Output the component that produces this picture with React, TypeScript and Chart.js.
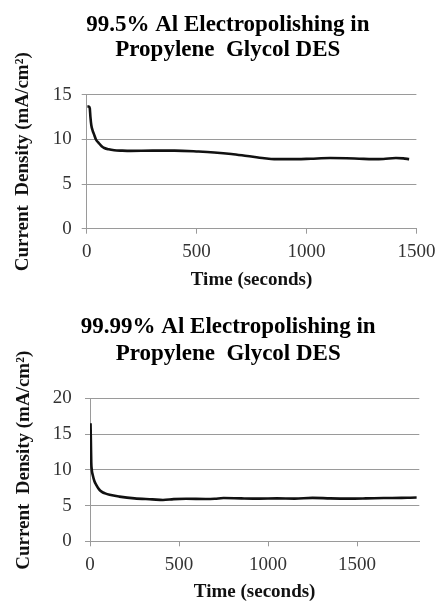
import React, { useEffect, useRef } from "react";
import { Chart, registerables } from "chart.js";

Chart.register(...registerables);

const title1 = ["99.5% Al Electropolishing in", "Propylene  Glycol DES"];
const title2 = ["99.99% Al Electropolishing in", "Propylene  Glycol DES"];
const xTitle = "Time (seconds)";
const yTitle1 = "Current  Density (mA/cm²)";
const yTitle2 = "    Current  Density (mA/cm²)";

const time1 = [3, 10, 14, 17, 21, 27, 33, 42, 55, 68, 80, 100, 125, 160, 200, 300, 400, 509, 580, 658, 730, 808, 853, 900, 958, 1020, 1107, 1182, 1240, 1302, 1350, 1407, 1440, 1467];
const density1 = [13.7, 13.7, 13.5, 12.5, 11.6, 11.0, 10.6, 10.0, 9.6, 9.25, 9.05, 8.9, 8.8, 8.75, 8.72, 8.75, 8.75, 8.65, 8.55, 8.38, 8.15, 7.9, 7.8, 7.8, 7.8, 7.85, 7.92, 7.9, 7.85, 7.8, 7.82, 7.92, 7.88, 7.8];
const xTicks1 = [0, 500, 1000, 1500];
const yTicks1 = [0, 5, 10, 15];

const time2 = [3, 5, 7, 10, 15, 25, 35, 50, 65, 85, 110, 165, 250, 350, 410, 470, 540, 650, 700, 750, 850, 950, 1050, 1150, 1250, 1350, 1450, 1550, 1650, 1750, 1800, 1835];
const density2 = [16.5, 14.0, 11.1, 10.0, 9.3, 8.4, 7.9, 7.3, 6.95, 6.7, 6.5, 6.25, 6.0, 5.87, 5.78, 5.9, 5.95, 5.92, 5.95, 6.05, 6.0, 5.97, 6.0, 5.97, 6.07, 6.0, 5.97, 6.0, 6.05, 6.07, 6.1, 6.12];
const xTicks2 = [0, 500, 1000, 1500];
const yTicks2 = [0, 5, 10, 15, 20];

const FONT = "'Liberation Serif', 'Times New Roman', serif";
const GRID = "#9a9a9a";

type Params = {
  title: string[];
  yTitle: string;
  time: number[];
  density: number[];
  xTicks: number[];
  yTicks: number[];
  xMax: number;
  yMax: number;
  titleLH: number;
  titlePadTop: number;
  titlePadBottom: number;
  padLeft: number;
  padRight: number;
  yWidth: number;
  yTitlePad: number;
  yTickPad: number;
  xHeight: number;
  xTickPad: number;
  xTitlePad: number;
};

function makeConfig(p: Params): any {
  return {
    type: "line",
    data: {
      datasets: [
        {
          data: p.time.map((t, i) => ({ x: t, y: p.density[i] })),
          borderColor: "#111111",
          borderWidth: 2.6,
          pointRadius: 0,
          tension: 0.4,
          cubicInterpolationMode: "monotone",
          fill: false,
        },
      ],
    },
    options: {
      animation: false,
      responsive: false,
      devicePixelRatio: 1,
      layout: { padding: { left: p.padLeft, right: p.padRight, top: 0, bottom: 0 } },
      plugins: {
        legend: { display: false },
        tooltip: { enabled: false },
        title: {
          display: true,
          text: p.title,
          color: "#000000",
          font: { family: FONT, size: 23, weight: "bold", lineHeight: p.titleLH },
          padding: { top: p.titlePadTop, bottom: p.titlePadBottom },
        },
      },
      scales: {
        x: {
          type: "linear",
          min: 0,
          max: p.xMax,
          afterBuildTicks: (scale: any) => {
            scale.ticks = p.xTicks.map((v) => ({ value: v }));
          },
          afterFit: (scale: any) => {
            scale.height = p.xHeight;
          },
          grid: { display: true, drawOnChartArea: false, drawTicks: true, tickLength: 5, color: GRID },
          border: { display: true, color: GRID, width: 1 },
          ticks: {
            color: "#333333",
            padding: p.xTickPad,
            font: { family: FONT, size: 19 },
            maxRotation: 0,
            autoSkip: false,
            callback: (v: any) => String(v),
          },
          title: {
            display: true,
            text: xTitle,
            color: "#111111",
            font: { family: FONT, size: 19, weight: "bold", lineHeight: 1.2 },
            padding: { top: 0, bottom: p.xTitlePad },
          },
        },
        y: {
          type: "linear",
          min: 0,
          max: p.yMax,
          afterBuildTicks: (scale: any) => {
            scale.ticks = p.yTicks.map((v) => ({ value: v }));
          },
          afterFit: (scale: any) => {
            scale.width = p.yWidth;
          },
          grid: { display: true, drawOnChartArea: true, drawTicks: true, tickLength: 5, color: GRID },
          border: { display: true, color: GRID, width: 1 },
          ticks: {
            color: "#333333",
            padding: p.yTickPad,
            font: { family: FONT, size: 19 },
            autoSkip: false,
            callback: (v: any) => String(v),
          },
          title: {
            display: true,
            text: p.yTitle,
            color: "#111111",
            font: { family: FONT, size: 19, weight: "bold", lineHeight: 1.2 },
            padding: { top: p.yTitlePad, bottom: 0 },
          },
        },
      },
    },
  };
}

function ChartBox({ params, width, height, top }: { params: Params; width: number; height: number; top: number }) {
  const ref = useRef<HTMLCanvasElement | null>(null);
  useEffect(() => {
    if (!ref.current) return;
    const chart = new Chart(ref.current, makeConfig(params));
    return () => chart.destroy();
  }, []);
  return (
    <canvas
      ref={ref}
      width={width}
      height={height}
      style={{ position: "absolute", left: 0, top, width, height, display: "block" }}
    />
  );
}

const params1: Params = {
  title: title1,
  yTitle: yTitle1,
  time: time1,
  density: density1,
  xTicks: xTicks1,
  yTicks: yTicks1,
  xMax: 1500,
  yMax: 15,
  titleLH: 1.1,
  titlePadTop: 12.3,
  titlePadBottom: 32,
  padLeft: 34.9,
  padRight: 21.3,
  yWidth: 51.8,
  yTitlePad: -23,
  yTickPad: 10,
  xHeight: 71.3,
  xTickPad: 6.6,
  xTitlePad: 8.6,
};

const params2: Params = {
  title: title2,
  yTitle: yTitle2,
  time: time2,
  density: density2,
  xTicks: xTicks2,
  yTicks: yTicks2,
  xMax: 1850,
  yMax: 20,
  titleLH: 1.15,
  titlePadTop: 14.3,
  titlePadBottom: 31.1,
  padLeft: 37.1,
  padRight: 22.7,
  yWidth: 52.9,
  yTitlePad: -24.8,
  yTickPad: 13.3,
  xHeight: 59.7,
  xTickPad: 7.3,
  xTitlePad: -2.4,
};

export default function App() {
  return (
    <div
      style={{
        position: "absolute",
        left: 0,
        top: 0,
        width: 442,
        height: 601,
        overflow: "hidden",
        background: "#ffffff",
      }}
    >
      <ChartBox params={params1} width={442} height={300} top={0} />
      <ChartBox params={params2} width={442} height={301} top={300} />
    </div>
  );
}
